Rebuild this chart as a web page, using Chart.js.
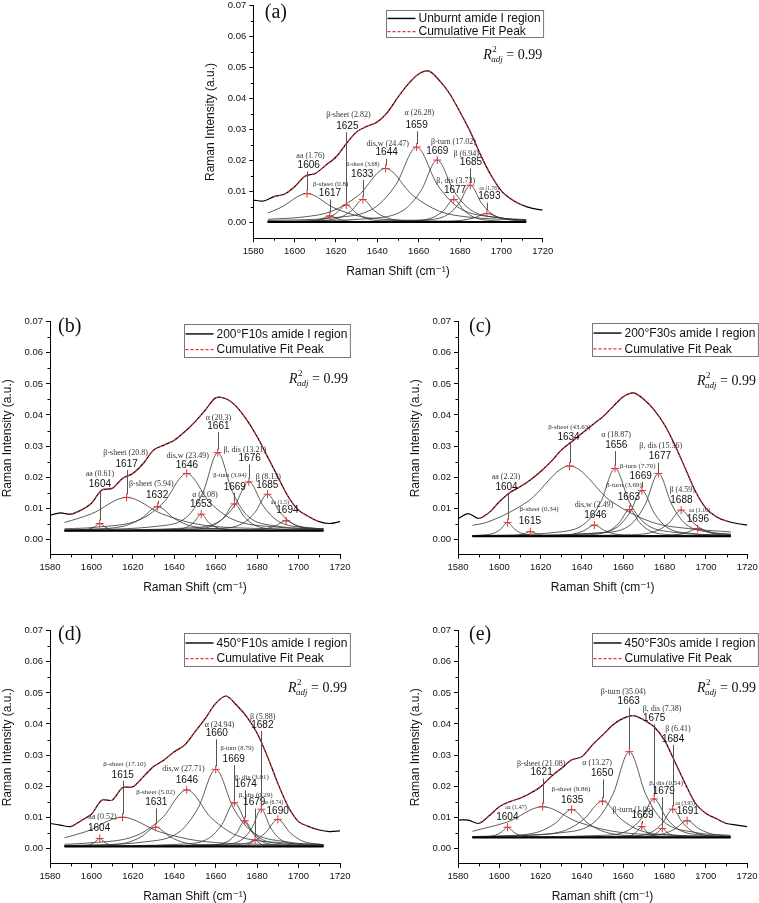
<!DOCTYPE html>
<html>
<head>
<meta charset="utf-8">
<script src="https://cdn.jsdelivr.net/npm/chart.js@4.4.1/dist/chart.umd.min.js"></script>
<style>
  html, body { margin: 0; padding: 0; background: #fff; }
  body { width: 759px; height: 903px; overflow: hidden; position: relative; }
  canvas { position: absolute; }
</style>
</head>
<body>
<canvas id="pa"></canvas>
<canvas id="pb"></canvas>
<canvas id="pc"></canvas>
<canvas id="pd"></canvas>
<canvas id="pe"></canvas>
<script>
// Raman shift grid of the measured spectra (cm-1)
const shift = [1580,1585,1590,1595,1600,1605,1610,1615,1620,1625,1630,1635,1640,1645,1650,1655,1660,1665,1670,1675,1680,1685,1690,1695,1700,1705,1710,1715,1720];

// measured amide I spectra (a.u.)
const specA = [.0073,.0070,.0084,.0092,.0116,.0150,.0159,.0185,.0212,.0255,.0293,.0311,.0325,.0357,.0405,.0448,.0480,.0489,.0459,.0416,.0357,.0293,.0218,.0153,.0103,.0075,.0057,.0046,.0041];
const specB = [.0078,.0085,.0081,.0094,.0116,.0159,.0164,.0196,.0212,.0244,.0287,.0303,.0319,.0346,.0378,.0416,.0455,.0452,.0427,.0384,.0330,.0266,.0201,.0137,.0094,.0073,.0057,.0051,.0057];
const specC = [.0067,.0083,.0067,.0086,.0121,.0150,.0169,.0191,.0218,.0250,.0287,.0314,.0341,.0368,.0394,.0427,.0459,.0471,.0450,.0416,.0368,.0303,.0228,.0153,.0100,.0073,.0059,.0051,.0046];
const specD = [.0080,.0075,.0070,.0089,.0110,.0155,.0155,.0195,.0198,.0230,.0263,.0284,.0311,.0332,.0375,.0418,.0466,.0490,.0461,.0423,.0370,.0295,.0209,.0134,.0086,.0070,.0059,.0054,.0056];
const specE = [.0091,.0091,.0080,.0104,.0134,.0150,.0161,.0177,.0198,.0230,.0257,.0284,.0295,.0332,.0364,.0397,.0418,.0427,.0413,.0391,.0348,.0279,.0209,.0145,.0113,.0096,.0080,.0075,.0070];

// fit baselines
const baseA = 0.0002, baseB = 0.0028, baseC = 0.0010, baseD = 0.0006, baseE = 0.0035;

// fitted component peaks, [shift, intensity]
const peaksA = [
  [[1587,.0031],[1593,.0048],[1606,.0094],[1619,.0048],[1632,.0020],[1658,.0007],[1712,.0003]],
  [[1587,.0002],[1601,.0003],[1609,.0006],[1613,.0012],[1617,.0022],[1621,.0012],[1625,.0006],[1633,.0003],[1712,.0002]],
  [[1587,.0003],[1605,.0005],[1615,.0013],[1620,.0030],[1625,.0057],[1630,.0030],[1635,.0013],[1645,.0005],[1712,.0002]],
  [[1587,.0003],[1611,.0006],[1622,.0017],[1627.5,.0039],[1633,.0075],[1638.5,.0039],[1644,.0017],[1655,.0006],[1712,.0002]],
  [[1587,.0011],[1605,.0019],[1618,.0037],[1631,.0089],[1644,.0175],[1657,.0089],[1670,.0037],[1683,.0019],[1712,.0008]],
  [[1587,.0007],[1619,.0016],[1639,.0050],[1649,.0123],[1659,.0244],[1669,.0123],[1679,.0050],[1699,.0016],[1712,.0010]],
  [[1587,.0004],[1637,.0014],[1653,.0042],[1661,.0102],[1669,.0202],[1677,.0102],[1685,.0042],[1701,.0014],[1712,.0009]],
  [[1587,.0002],[1657,.0006],[1667,.0017],[1672,.0039],[1677,.0075],[1682,.0039],[1687,.0017],[1697,.0006],[1712,.0003]],
  [[1587,.0002],[1663,.0009],[1674,.0026],[1679.5,.0062],[1685,.0121],[1690.5,.0062],[1696,.0026],[1707,.0009],[1712,.0007]],
  [[1587,.0002],[1669,.0004],[1681,.0008],[1687,.0016],[1693,.0030],[1699,.0016],[1705,.0008],[1712,.0005]]
];
const peaksB = [
  [[1587,.0029],[1594,.0029],[1599,.0033],[1601.5,.0040],[1604,.0051],[1606.5,.0040],[1609,.0033],[1614,.0029],[1712,.0028]],
  [[1587,.0054],[1600,.0082],[1617,.0135],[1634,.0082],[1651,.0049],[1685,.0034],[1712,.0031]],
  [[1587,.0030],[1600,.0033],[1616,.0043],[1624,.0067],[1632,.0105],[1640,.0067],[1648,.0043],[1664,.0033],[1712,.0029]],
  [[1587,.0034],[1602,.0039],[1624,.0065],[1635,.0120],[1646,.0212],[1657,.0120],[1668,.0065],[1690,.0039],[1712,.0033]],
  [[1587,.0028],[1639,.0031],[1646,.0039],[1649.5,.0055],[1653,.0081],[1656.5,.0055],[1660,.0039],[1667,.0031],[1712,.0028]],
  [[1587,.0030],[1633,.0043],[1647,.0078],[1654,.0154],[1661,.0279],[1668,.0154],[1675,.0078],[1689,.0043],[1712,.0033]],
  [[1587,.0028],[1649,.0033],[1659,.0045],[1664,.0071],[1669,.0114],[1674,.0071],[1679,.0045],[1689,.0033],[1712,.0029]],
  [[1587,.0029],[1648,.0037],[1662,.0059],[1669,.0107],[1676,.0185],[1683,.0107],[1690,.0059],[1704,.0037],[1712,.0034]],
  [[1587,.0028],[1661,.0035],[1673,.0051],[1679,.0087],[1685,.0145],[1691,.0087],[1697,.0051],[1709,.0035],[1712,.0034]],
  [[1587,.0028],[1674,.0030],[1684,.0034],[1689,.0044],[1694,.0060],[1699,.0044],[1704,.0034],[1712,.0030]]
];
const peaksC = [
  [[1587,.0012],[1590,.0013],[1597,.0019],[1600.5,.0032],[1604,.0054],[1607.5,.0032],[1611,.0019],[1618,.0013],[1712,.0010]],
  [[1587,.0010],[1603,.0011],[1609,.0013],[1612,.0018],[1615,.0025],[1618,.0018],[1621,.0013],[1627,.0011],[1712,.0010]],
  [[1587,.0045],[1594,.0055],[1614,.0123],[1634,.0236],[1654,.0123],[1674,.0055],[1694,.0033],[1712,.0024]],
  [[1587,.0010],[1626,.0012],[1636,.0017],[1641,.0028],[1646,.0046],[1651,.0028],[1656,.0017],[1666,.0012],[1712,.0010]],
  [[1587,.0012],[1628,.0023],[1642,.0054],[1649,.0119],[1656,.0228],[1663,.0119],[1670,.0054],[1684,.0023],[1712,.0013]],
  [[1587,.0010],[1643,.0015],[1653,.0027],[1658,.0053],[1663,.0096],[1668,.0053],[1673,.0027],[1683,.0015],[1712,.0011]],
  [[1587,.0010],[1645,.0019],[1657,.0039],[1663,.0084],[1669,.0157],[1675,.0084],[1681,.0039],[1693,.0019],[1712,.0013]],
  [[1587,.0011],[1651,.0022],[1664,.0050],[1670.5,.0111],[1677,.0212],[1683.5,.0111],[1690,.0050],[1703,.0022],[1712,.0017]],
  [[1587,.0010],[1664,.0015],[1676,.0027],[1682,.0052],[1688,.0094],[1694,.0052],[1700,.0027],[1712,.0015]],
  [[1587,.0010],[1676,.0012],[1686,.0015],[1691,.0023],[1696,.0035],[1701,.0023],[1706,.0015],[1712,.0012]]
];
const peaksD = [
  [[1587,.0006],[1594,.0008],[1599,.0011],[1601.5,.0019],[1604,.0032],[1606.5,.0019],[1609,.0011],[1614,.0008],[1712,.0006]],
  [[1587,.0034],[1597,.0053],[1615,.0100],[1633,.0053],[1651,.0025],[1687,.0012],[1712,.0009]],
  [[1587,.0008],[1603,.0010],[1617,.0018],[1624,.0037],[1631,.0068],[1638,.0037],[1645,.0018],[1659,.0010],[1712,.0007]],
  [[1587,.0013],[1598,.0017],[1622,.0042],[1634,.0097],[1646,.0188],[1658,.0097],[1670,.0042],[1694,.0017],[1712,.0012]],
  [[1587,.0009],[1626,.0021],[1643,.0056],[1651.5,.0130],[1660,.0254],[1668.5,.0130],[1677,.0056],[1694,.0021],[1712,.0012]],
  [[1587,.0007],[1645,.0014],[1657,.0034],[1663,.0077],[1669,.0147],[1675,.0077],[1681,.0034],[1693,.0014],[1712,.0009]],
  [[1587,.0006],[1658,.0011],[1666,.0023],[1670,.0048],[1674,.0089],[1678,.0048],[1682,.0023],[1690,.0011],[1712,.0007]],
  [[1587,.0006],[1671,.0007],[1675,.0010],[1677,.0017],[1679,.0027],[1681,.0017],[1683,.0010],[1687,.0007],[1712,.0006]],
  [[1587,.0006],[1664,.0013],[1673,.0030],[1677.5,.0066],[1682,.0126],[1686.5,.0066],[1691,.0030],[1700,.0013],[1712,.0009]],
  [[1587,.0006],[1666,.0011],[1678,.0023],[1684,.0050],[1690,.0093],[1696,.0050],[1702,.0023],[1712,.0012]]
];
const peaksE = [
  [[1587,.0036],[1592,.0037],[1598,.0042],[1601,.0052],[1604,.0068],[1607,.0052],[1610,.0042],[1616,.0037],[1712,.0035]],
  [[1587,.0055],[1604,.0085],[1621,.0134],[1638,.0085],[1655,.0055],[1689,.0041],[1712,.0038]],
  [[1587,.0037],[1603,.0040],[1619,.0053],[1627,.0080],[1635,.0125],[1643,.0080],[1651,.0053],[1667,.0040],[1712,.0036]],
  [[1587,.0037],[1614,.0042],[1632,.0058],[1641,.0094],[1650,.0152],[1659,.0094],[1668,.0058],[1686,.0042],[1712,.0037]],
  [[1587,.0038],[1631,.0051],[1647,.0090],[1655,.0173],[1663,.0311],[1671,.0173],[1679,.0090],[1695,.0051],[1712,.0042]],
  [[1587,.0035],[1659,.0037],[1664,.0042],[1666.5,.0053],[1669,.0070],[1671.5,.0053],[1674,.0042],[1679,.0037],[1712,.0035]],
  [[1587,.0036],[1651,.0042],[1663,.0060],[1669,.0097],[1675,.0159],[1681,.0097],[1687,.0060],[1699,.0042],[1712,.0038]],
  [[1587,.0035],[1669,.0037],[1674,.0041],[1676.5,.0050],[1679,.0064],[1681.5,.0050],[1684,.0041],[1689,.0037],[1712,.0035]],
  [[1587,.0035],[1664,.0040],[1674,.0053],[1679,.0081],[1684,.0126],[1689,.0081],[1694,.0053],[1704,.0040],[1712,.0038]],
  [[1587,.0035],[1667,.0038],[1679,.0046],[1685,.0062],[1691,.0089],[1697,.0062],[1703,.0046],[1712,.0039]]
];

// peak assignments and positions
const namesA = ['aa (1.76)','β-sheet (0.8)','β-sheet (2.82)','β-sheet (3.68)','dis,w (24.47)','α (26.28)','β-turn (17.02)','β, dis (3.73)','β (6.94)','aa (1.76)'];
const centersA = [1606,1617,1625,1633,1644,1659,1669,1677,1685,1693];
const namesB = ['aa (0.61)','β-sheet (20.8)','β-sheet (5.94)','dis,w (23.49)','α (2.08)','α (20.3)','β-turn (3.94)','β, dis (13.21)','β (8.13)','aa (1.5)'];
const centersB = [1604,1617,1632,1646,1653,1661,1669,1676,1685,1694];
const namesC = ['aa (2.23)','β-sheet (0.34)','β-sheet (43.63)','dis,w (2.49)','α (18.87)','β-turn (3.69)','β-turn (7.70)','β, dis (15.36)','β (4.59)','aa (1.10)'];
const centersC = [1604,1615,1634,1646,1656,1663,1669,1677,1688,1696];
const namesD = ['aa (0.52)','β-sheet (17.10)','β-sheet (5.02)','dis,w (27.71)','α (24.94)','β-turn (8.79)','β, dis (3.01)','β, dis (0.29)','β (5.88)','aa (6.74)'];
const centersD = [1604,1615,1631,1646,1660,1669,1674,1679,1682,1690];
const namesE = ['aa (1.47)','β-sheet (21.08)','β-sheet (9.86)','α (13.27)','β-turn (35.04)','β-turn (1.06)','β, dis (7.38)','β, dis (0.54)','β (6.41)','aa (3.95)'];
const centersE = [1604,1621,1635,1650,1663,1669,1675,1679,1684,1691];

const xTicks = [1580,1600,1620,1640,1660,1680,1700,1720];
const yTicks = [0,0.01,0.02,0.03,0.04,0.05,0.06,0.07];
const xMinor = [1590,1610,1630,1650,1670,1690,1710];
const yMinor = [0.005,0.015,0.025,0.035,0.045,0.055,0.065];

// label placement: [numX, numY, nameX, nameY, nameFontPx]
const posA = [[1606.8,.0185,1607.7,.0215,8],[1617.1,.0094,1617.4,.0123,7],[1625.5,.0311,1626,.0348,8],[1632.7,.0157,1633,.0189,6],[1644.5,.0226,1645,.0255,8],[1659,.0314,1660.3,.0354,8],[1669,.0232,1676.8,.0261,8],[1677.6,.0105,1677.9,.0134,8],[1685.3,.0194,1683,.0221,8],[1694.2,.0084,1694,.0110,5.5]];
const posB = [[1604.1,.0178,1604.1,.0212,8],[1617,.0242,1616.5,.0277,8],[1631.7,.0143,1628.9,.0178,8],[1646.1,.0239,1646.5,.0268,8],[1652.9,.0114,1654.8,.0143,8],[1661.3,.0364,1661.3,.0389,8],[1669.2,.0169,1666.9,.0205,6.5],[1676.4,.0260,1674.1,.0287,8],[1684.9,.0175,1685.4,.0202,8],[1694.6,.0092,1691,.0118,6]];
const posC = [[1603.5,.0167,1603.2,.0202,8],[1614.8,.0059,1619.2,.0097,7],[1633.5,.0328,1633.9,.0360,7],[1646.5,.0078,1645.8,.0110,8],[1656.6,.0303,1656.5,.0336,8],[1662.7,.0135,1660.3,.0173,7],[1668.4,.0204,1666.9,.0234,7],[1677.7,.0266,1678.1,.0300,8],[1688.1,.0127,1688.5,.0159,8],[1696.1,.0065,1696.9,.0092,6]];
const posD = [[1603.7,.0064,1605.3,.0100,8],[1615.1,.0236,1616,.0271,7],[1631.3,.0148,1631,.0180,7],[1646.1,.0220,1644.4,.0255,8],[1660.5,.0370,1661.8,.0397,8],[1668.7,.0287,1670.3,.0322,6.5],[1674.5,.0206,1677.5,.0230,7],[1678.6,.0147,1679.3,.0172,7],[1682.5,.0397,1682.7,.0423,8],[1689.9,.0120,1687.8,.0148,5.5]];
const posE = [[1603.9,.0100,1608.1,.0132,6],[1620.5,.0244,1620.3,.0273,8],[1635.3,.0155,1634.7,.0190,7],[1649.8,.0241,1647.4,.0276,8],[1662.7,.0472,1660,.0504,8],[1669.4,.0107,1664.8,.0125,8],[1675,.0418,1678.9,.0450,8],[1679.7,.0184,1680.8,.0211,7],[1684.2,.0352,1686.5,.0384,8],[1691.3,.0118,1690,.0145,5.5]];

// panel frames in page pixels + decoration offsets
const layA = {L:253.3, R:542.7, T:5, B:238.2, leg:[132.5,4.3,27.4], r2:[230,53.3], tag:[11.5,7]};
const layB = {L:50, R:340, T:321.7, B:554.9, leg:[134,2.3,32.5], r2:[239,61.6], tag:[8,5]};
const layC = {L:458, R:747.3, T:321.7, B:554.9, leg:[134.3,1.6,33], r2:[239,63], tag:[11,5]};
const layD = {L:50, R:340, T:630.7, B:863.9, leg:[134,2.6,32.7], r2:[238,61.3], tag:[8,4.5]};
const layE = {L:458, R:747, T:630.7, B:863.9, leg:[134.3,2.6,32.7], r2:[239,61.3], tag:[11,4.5]};

Chart.defaults.font.family = '"Liberation Sans", Arial, "DejaVu Sans", sans-serif';
Chart.defaults.color = '#111';

const SERIF = '"Liberation Serif", "Times New Roman", "DejaVu Serif", serif';
const SANS = '"Liberation Sans", Arial, "DejaVu Sans", sans-serif';
const RED = '#e3343a';

function decorPlugin(p, lay) {
  return {
    id: 'decor',
    afterDatasetsDraw(chart) {
      const ctx = chart.ctx, xs = chart.scales.x, ys = chart.scales.y, a = chart.chartArea;
      ctx.save();
      // minor ticks
      ctx.strokeStyle = '#000';
      ctx.lineWidth = 1;
      ctx.beginPath();
      xMinor.forEach(v => {
        const px = Math.round(xs.getPixelForValue(v)) + 0.5;
        ctx.moveTo(px, a.bottom); ctx.lineTo(px, a.bottom + 2.5);
      });
      yMinor.forEach(v => {
        const py = Math.round(ys.getPixelForValue(v)) + 0.5;
        ctx.moveTo(a.left, py); ctx.lineTo(a.left - 2.5, py);
      });
      ctx.stroke();

      // peak labels
      ctx.textAlign = 'center';
      ctx.textBaseline = 'middle';
      p.peaks.forEach((pk, i) => {
        const top = pk.reduce((m, q) => q[1] > m[1] ? q : m);
        const pos = p.pos[i];
        const tx = Math.round(xs.getPixelForValue(top[0])) + 0.5;
        const ty = ys.getPixelForValue(top[1]);
        const nx = xs.getPixelForValue(pos[0]), ny = ys.getPixelForValue(pos[1]);
        if (ty - 3 - (ny + 6) > 2) {
          ctx.strokeStyle = '#555';
          ctx.lineWidth = 1;
          ctx.beginPath();
          ctx.moveTo(tx, ty - 3);
          ctx.lineTo(tx, ny + 6);
          ctx.stroke();
        }
        ctx.fillStyle = '#111';
        ctx.font = '10px ' + SANS;
        ctx.fillText(String(p.centers[i]), nx, ny);
        ctx.fillStyle = '#333';
        ctx.font = pos[4] + 'px ' + SERIF;
        ctx.fillText(p.names[i], xs.getPixelForValue(pos[2]), ys.getPixelForValue(pos[3]));
      });

      // legend box
      const ds = chart.data.datasets;
      const specLabel = ds.find(d => d.role === 'spec').label;
      const fitLabel = ds.find(d => d.role === 'fit').label;
      const lx = Math.round(a.left + lay.leg[0]) + 0.5, ly = Math.round(a.top + lay.leg[1]) + 0.5, lh = lay.leg[2];
      ctx.font = '12px ' + SANS;
      const tw = Math.max(ctx.measureText(specLabel).width, ctx.measureText(fitLabel).width);
      ctx.strokeStyle = '#777';
      ctx.lineWidth = 1;
      ctx.strokeRect(lx, ly, 33 + tw + 2, Math.round(lh));
      const y1 = ly + lh * 0.29, y2 = ly + lh * 0.77;
      ctx.strokeStyle = '#000';
      ctx.lineWidth = 1.4;
      ctx.beginPath(); ctx.moveTo(lx + 1, y1); ctx.lineTo(lx + 29, y1); ctx.stroke();
      ctx.strokeStyle = RED;
      ctx.lineWidth = 1.2;
      ctx.setLineDash([3, 2]);
      ctx.beginPath(); ctx.moveTo(lx + 1, y2); ctx.lineTo(lx + 29, y2); ctx.stroke();
      ctx.setLineDash([]);
      ctx.fillStyle = '#111';
      ctx.textAlign = 'left';
      ctx.fillText(specLabel, lx + 32, y1 + 0.5);
      ctx.fillText(fitLabel, lx + 32, y2 + 0.5);

      // adjusted R squared
      const rx = a.left + lay.r2[0], ry = a.top + lay.r2[1];
      ctx.textBaseline = 'alphabetic';
      ctx.font = 'italic 14px ' + SERIF;
      ctx.fillText('R', rx, ry);
      const rw = ctx.measureText('R').width;
      ctx.font = '9px ' + SERIF;
      ctx.fillText('2', rx + rw + 0.5, ry - 7);
      ctx.font = 'italic 9px ' + SERIF;
      ctx.fillText('adj', rx + rw - 0.5, ry + 3);
      const aw = ctx.measureText('adj').width;
      ctx.font = '14px ' + SERIF;
      ctx.fillText(' = ' + p.r2, rx + rw + aw - 0.5, ry);

      // panel tag
      ctx.font = '20px ' + SERIF;
      ctx.textBaseline = 'middle';
      ctx.fillText(p.tag, a.left + lay.tag[0], a.top + lay.tag[1]);
      ctx.restore();
    }
  };
}

function buildPanel(id, lay, p) {
  const cv = document.getElementById(id);
  const cl = Math.floor(lay.L) - 52, ct = Math.floor(lay.T) - 8;
  const cw = Math.ceil(lay.R) - cl + 30, ch = Math.ceil(lay.B) - ct + 42;
  cv.style.left = cl + 'px';
  cv.style.top = ct + 'px';
  cv.style.width = cw + 'px';
  cv.style.height = ch + 'px';
  cv.width = cw;
  cv.height = ch;
  const yw = lay.L - cl, xh = ch - (lay.B - ct);

  const pts = arr => arr.map(q => ({x: q[0], y: q[1]}));
  const tops = p.peaks.map(pk => pk.reduce((m, q) => q[1] > m[1] ? q : m));
  const spec = shift.map((x, i) => [x, p.spec[i]]);
  const fit = spec.filter(q => q[0] >= 1587 && q[0] <= 1712);

  const datasets = [
    {role: 'mark', label: 'peak maxima', data: pts(tops), showLine: false, pointStyle: 'cross',
     pointRadius: 4, pointBorderColor: RED, pointBorderWidth: 1, order: 0},
    {role: 'fit', label: 'Cumulative Fit Peak', data: pts(fit), borderColor: RED, borderWidth: 1.1,
     borderDash: [3, 2], pointRadius: 0, tension: 0.3, order: 1},
    {role: 'spec', label: p.series, data: pts(spec), borderColor: '#000', borderWidth: 1.2,
     pointRadius: 0, tension: 0.3, order: 2},
    {role: 'base', label: 'baseline', data: pts([[1587, p.base], [1712, p.base]]), borderColor: '#000',
     borderWidth: 2, pointRadius: 0, order: 3}
  ];
  p.peaks.forEach(pk => datasets.push({
    role: 'peak', label: 'peak', data: pts(pk), borderColor: '#333', borderWidth: 0.8,
    pointRadius: 0, cubicInterpolationMode: 'monotone', order: 4
  }));

  new Chart(cv, {
    type: 'line',
    data: {datasets},
    plugins: [decorPlugin(p, lay)],
    options: {
      responsive: false,
      animation: false,
      devicePixelRatio: 1,
      layout: {padding: {left: 0, top: lay.T - ct, right: cw - (lay.R - cl), bottom: 0}},
      plugins: {legend: {display: false}, tooltip: {enabled: false}},
      scales: {
        x: {
          type: 'linear', min: 1580, max: 1720,
          afterBuildTicks: s => { s.ticks = xTicks.map(v => ({value: v})); },
          afterFit: s => { s.height = xh; },
          ticks: {autoSkip: false, maxRotation: 0, padding: 3, font: {size: 9.5}, color: '#111',
                  callback: v => String(v)},
          grid: {drawOnChartArea: false, tickLength: 4, color: '#000'},
          border: {color: '#000', width: 1},
          title: {display: true, text: p.xTitle, color: '#111', font: {size: 12},
                  padding: {top: 0, bottom: xh - 40.4}}
        },
        y: {
          type: 'linear', min: -0.005, max: 0.07,
          afterBuildTicks: s => { s.ticks = yTicks.map(v => ({value: v})); },
          afterFit: s => { s.width = yw; },
          ticks: {autoSkip: false, padding: 3, font: {size: 9.5}, color: '#111',
                  callback: v => v.toFixed(2)},
          grid: {drawOnChartArea: false, tickLength: 4, color: '#000'},
          border: {color: '#000', width: 1},
          title: {display: true, text: 'Raman Intensity (a.u.)', color: '#111', font: {size: 12},
                  padding: {top: yw - 49.8, bottom: 0}}
        }
      }
    }
  });
}

buildPanel('pa', layA, {spec: specA, base: baseA, peaks: peaksA, centers: centersA, names: namesA, pos: posA,
  series: 'Unburnt amide I region', xTitle: 'Raman Shift (cm⁻¹)', tag: '(a)', r2: '0.99'});
buildPanel('pb', layB, {spec: specB, base: baseB, peaks: peaksB, centers: centersB, names: namesB, pos: posB,
  series: '200°F10s amide I region', xTitle: 'Raman Shift (cm⁻¹)', tag: '(b)', r2: '0.99'});
buildPanel('pc', layC, {spec: specC, base: baseC, peaks: peaksC, centers: centersC, names: namesC, pos: posC,
  series: '200°F30s amide I region', xTitle: 'Raman Shift (cm⁻¹)', tag: '(c)', r2: '0.99'});
buildPanel('pd', layD, {spec: specD, base: baseD, peaks: peaksD, centers: centersD, names: namesD, pos: posD,
  series: '450°F10s amide I region', xTitle: 'Raman Shift (cm⁻¹)', tag: '(d)', r2: '0.99'});
buildPanel('pe', layE, {spec: specE, base: baseE, peaks: peaksE, centers: centersE, names: namesE, pos: posE,
  series: '450°F30s amide I region', xTitle: 'Raman shift (cm⁻¹)', tag: '(e)', r2: '0.99'});
</script>
</body>
</html>
